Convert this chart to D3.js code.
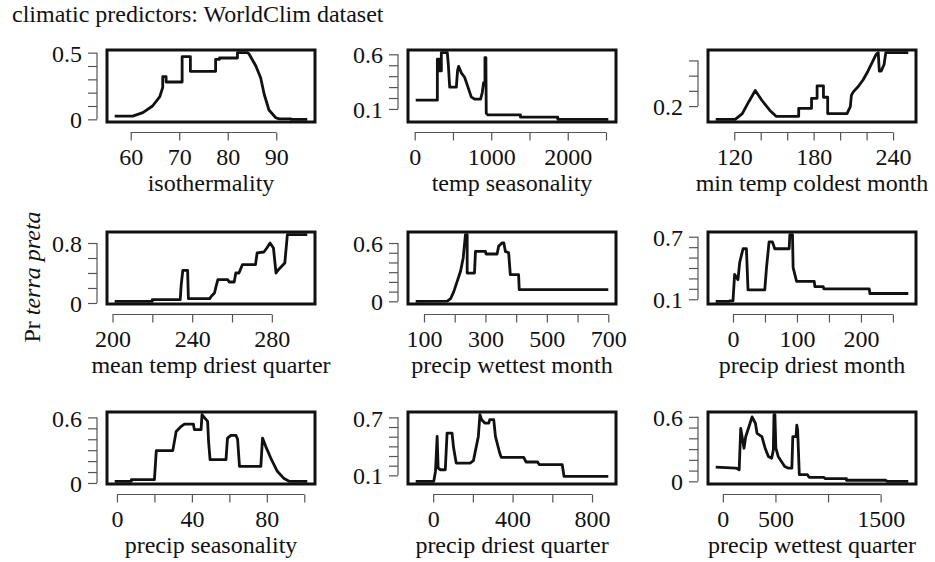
<!DOCTYPE html>
<html>
<head>
<meta charset="utf-8">
<script src="https://cdn.jsdelivr.net/npm/d3@7"></script>
<style>
body { margin: 0; background: #fff; }
text { font-family: "Liberation Serif", "Times New Roman", serif; fill: #111; }
</style>
</head>
<body>
<script>
// response curves, [x, Pr]
const isothermality = [[56.7,0.024],[60.4,0.024],[62.5,0.05],[64.5,0.1],[66,0.17],[66.6,0.24],[66.6,0.32],[67.3,0.32],[67.3,0.28],[70.6,0.28],[70.6,0.47],[72.3,0.47],[72.3,0.36],[77.5,0.36],[77.5,0.45],[78.3,0.45],[78.3,0.46],[82,0.46],[82,0.5],[84.1,0.5],[84.4,0.49],[85.8,0.4],[86.8,0.31],[87.5,0.19],[88.5,0.07],[89.9,0.012],[90.6,0.003],[93,0.003],[93,0],[96.4,0]];
const tempSeasonality = [[13,0.18],[296,0.18],[296,0.555],[322,0.555],[322,0.448],[348,0.448],[348,0.615],[426,0.615],[440,0.5],[457,0.3],[544,0.3],[560,0.45],[574,0.49],[609,0.43],[652,0.39],[696,0.3],[739,0.21],[783,0.19],[861,0.19],[883,0.25],[900,0.34],[918,0.34],[918,0.57],[930,0.57],[935,0.06],[957,0.045],[1382,0.045],[1382,0.025],[1870,0.025],[1870,0.005],[2530,0.005]];
const minTempColdest = [[106,0.113],[120.7,0.113],[126.1,0.151],[131,0.229],[135.9,0.302],[140.7,0.24],[146.8,0.173],[151.6,0.133],[168.7,0.133],[168.7,0.185],[178.4,0.185],[178.4,0.251],[182.6,0.251],[182.6,0.333],[187.4,0.333],[187.4,0.258],[190.6,0.258],[190.6,0.151],[205.2,0.151],[207.7,0.196],[208.5,0.27],[210.1,0.295],[213.7,0.329],[217.4,0.373],[221,0.429],[224.7,0.495],[227.2,0.54],[228.8,0.551],[229.6,0.43],[231,0.43],[233.2,0.473],[234.5,0.551],[251.5,0.551]];
const meanTempDriest = [[201.1,0.022],[220,0.022],[220,0.045],[234,0.045],[234.5,0.245],[235.3,0.436],[237.7,0.436],[238.1,0.058],[248.8,0.058],[249.6,0.089],[251.2,0.133],[252,0.222],[252.9,0.311],[257.8,0.311],[258.6,0.28],[261.1,0.28],[261.9,0.4],[263.5,0.4],[265.2,0.511],[271.8,0.511],[272.6,0.667],[276,0.68],[277.5,0.733],[279.1,0.8],[280.8,0.733],[282.1,0.4],[283.3,0.444],[286.5,0.533],[287.8,0.911],[297.8,0.911]];
const precipWettestMonth = [[73,0],[176,0.003],[186.5,0.027],[197,0.1],[208,0.206],[219,0.31],[227.6,0.446],[235,0.686],[240.6,0.686],[240.6,0.291],[264.4,0.291],[267.6,0.514],[300,0.514],[302,0.487],[338,0.487],[343,0.566],[354,0.6],[360,0.6],[365,0.514],[375.6,0.5],[381,0.274],[408,0.274],[410,0.12],[700,0.12]];
const precipDriestMonth = [[-27,0.08],[-5,0.08],[-5,0.085],[0,0.085],[2.6,0.338],[7.8,0.288],[10.5,0.453],[15.7,0.585],[21,0.585],[23.5,0.19],[49.7,0.19],[52.4,0.403],[56.4,0.65],[61.7,0.65],[65.3,0.585],[87.8,0.585],[88.9,0.72],[93,0.72],[94,0.403],[99.4,0.271],[127,0.271],[128,0.222],[141,0.222],[142,0.199],[213,0.199],[214,0.155],[274,0.155]];
const precipSeasonality = [[-1.2,0.015],[7.7,0.015],[7.7,0.03],[20,0.03],[21,0.296],[29.8,0.296],[31.6,0.472],[34.3,0.518],[36,0.539],[40.8,0.539],[41.3,0.488],[44.9,0.488],[45.4,0.625],[46.6,0.6],[48.4,0.564],[48.9,0.381],[49.7,0.214],[58.2,0.214],[59,0.411],[60.8,0.436],[63.5,0.436],[64.4,0.4],[65.4,0.152],[76.8,0.152],[77.7,0.411],[79.4,0.335],[82.1,0.228],[85.6,0.107],[89.2,0.04],[91.9,0.015],[101.6,0.015]];
const precipDriestQuarter = [[-88,0.038],[3,0.038],[11.6,0.141],[20,0.503],[25,0.175],[36.5,0.158],[61,0.158],[70,0.537],[95,0.537],[103,0.382],[116,0.227],[186,0.227],[202.6,0.252],[214,0.366],[227.5,0.503],[235.5,0.728],[244,0.676],[260,0.641],[280,0.641],[285,0.676],[305,0.676],[313.6,0.503],[335,0.331],[343,0.286],[456,0.286],[468,0.238],[526,0.238],[534,0.211],[650,0.211],[659,0.09],[882,0.09]];
const precipWettestQuarter = [[-68,0.132],[124,0.123],[155,0.108],[170,0.492],[201,0.308],[217,0.415],[248,0.508],[278,0.6],[310,0.538],[325,0.446],[371,0.415],[402,0.308],[433,0.231],[464,0.215],[480,0.292],[486,0.62],[495,0.62],[504,0.308],[526,0.231],[557,0.185],[588,0.138],[619,0.123],[656,0.123],[665,0.415],[696,0.415],[703,0.523],[711,0.477],[727,0.062],[804,0.062],[820,0.037],[959,0.037],[974,0.025],[1175,0.025],[1175,0.01],[1546,0.01],[1562,0],[1763,0]];

// axis titles, row by row
const xTitles = ["isothermality", "temp seasonality", "min temp coldest month",
                 "mean temp driest quarter", "precip wettest month", "precip driest month",
                 "precip seasonality", "precip driest quarter", "precip wettest quarter"];

// tick positions and the ones that get a label
const yTicks = [
    [0, 0.1, 0.2, 0.3, 0.4, 0.5], [0.1, 0.2, 0.3, 0.4, 0.5, 0.6], [0.2, 0.3, 0.4, 0.5],
    [0, 0.2, 0.4, 0.6, 0.8], [0, 0.1, 0.2, 0.3, 0.4, 0.5, 0.6], [0.1, 0.2, 0.3, 0.4, 0.5, 0.6, 0.7],
    [0, 0.1, 0.2, 0.3, 0.4, 0.5, 0.6], [0.1, 0.2, 0.3, 0.4, 0.5, 0.6, 0.7], [0, 0.1, 0.2, 0.3, 0.4, 0.5, 0.6]
];
const yLabels = [[0, 0.5], [0.1, 0.6], [0.2], [0, 0.8], [0, 0.6], [0.1, 0.7], [0, 0.6], [0.1, 0.7], [0, 0.6]];
const xTicks = [
    [60, 70, 80, 90], [0, 500, 1000, 1500, 2000, 2500], [120, 140, 160, 180, 200, 220, 240],
    [200, 220, 240, 260, 280], [100, 200, 300, 400, 500, 600, 700], [0, 50, 100, 150, 200, 250],
    [0, 20, 40, 60, 80, 100], [0, 200, 400, 600, 800], [0, 500, 1000, 1500]
];
const xLabels = [[60, 70, 80, 90], [0, 1000, 2000], [120, 180, 240], [200, 240, 280],
                 [100, 300, 500, 700], [0, 100, 200], [0, 40, 80], [0, 400, 800], [0, 500, 1500]];

const series = [isothermality, tempSeasonality, minTempColdest, meanTempDriest, precipWettestMonth,
                precipDriestMonth, precipSeasonality, precipDriestQuarter, precipWettestQuarter];

const width = 935, height = 562;
const colLeft = [107, 408, 708], rowTop = [50, 232, 412];
const boxW = 208, boxH = 72;
const fontSize = 24;

const svg = d3.select('body').append('svg')
    .attr('width', width)
    .attr('height', height);

svg.append('rect').attr('width', width).attr('height', height).attr('fill', '#fff');

svg.append('text')
    .attr('x', 12)
    .attr('y', 22)
    .style('font-size', fontSize + 'px')
    .text('climatic predictors: WorldClim dataset');

const ylab = svg.append('text')
    .attr('transform', 'translate(40,277) rotate(-90)')
    .attr('text-anchor', 'middle')
    .style('font-size', fontSize + 'px');
ylab.append('tspan').text('Pr ');
ylab.append('tspan').style('font-style', 'italic').text('terra preta');

// R style: 4% padding on each side of the data range
function padded(vals) {
    const [a, b] = d3.extent(vals);
    const p = (b - a) * 0.04;
    return [a - p, b + p];
}

series.forEach((data, i) => {
    const g = svg.append('g')
        .attr('transform', `translate(${colLeft[i % 3]},${rowTop[Math.floor(i / 3)]})`);

    const x = d3.scaleLinear().domain(padded(data.map(d => d[0]))).range([0, boxW]);
    const y = d3.scaleLinear().domain(padded(data.map(d => d[1]))).range([boxH, 0]);

    g.append('path')
        .datum(data)
        .attr('fill', 'none')
        .attr('stroke', '#111')
        .attr('stroke-width', 2.8)
        .attr('stroke-linejoin', 'round')
        .attr('d', d3.line().x(d => x(d[0])).y(d => y(d[1])));

    g.append('rect')
        .attr('width', boxW)
        .attr('height', boxH)
        .attr('fill', 'none')
        .attr('stroke', '#111')
        .attr('stroke-width', 3);

    // y axis, offset left of the box
    const yt = yTicks[i], yl = yLabels[i];
    const ya = g.append('g')
        .attr('transform', 'translate(-10,0)')
        .call(d3.axisLeft(y).tickValues(yt).tickSize(9).tickSizeOuter(0)
            .tickFormat(d => yl.includes(d) ? String(d) : ''));
    ya.select('.domain').attr('d', `M0,${y(yt[0])}V${y(yt[yt.length - 1])}`);
    ya.selectAll('line, .domain').attr('stroke', '#555').attr('stroke-width', 1.2);
    ya.selectAll('text')
        .attr('x', -15)
        .attr('dy', '0.36em')
        .style('font-size', fontSize + 'px')
        .style('font-family', '"Liberation Serif", serif')
        .attr('fill', '#111');

    // x axis, offset below the box
    const xt = xTicks[i], xl = xLabels[i];
    const xa = g.append('g')
        .attr('transform', `translate(0,${boxH + 10.5})`)
        .call(d3.axisBottom(x).tickValues(xt).tickSize(8).tickSizeOuter(0)
            .tickFormat(d => xl.includes(d) ? String(d) : ''));
    xa.select('.domain').attr('d', `M${x(xt[0])},0H${x(xt[xt.length - 1])}`);
    xa.selectAll('line, .domain').attr('stroke', '#555').attr('stroke-width', 1.2);
    xa.selectAll('text')
        .attr('y', 32)
        .attr('dy', null)
        .style('font-size', fontSize + 'px')
        .style('font-family', '"Liberation Serif", serif')
        .attr('fill', '#111');

    g.append('text')
        .attr('x', boxW / 2)
        .attr('y', boxH + 69)
        .attr('text-anchor', 'middle')
        .style('font-size', fontSize + 'px')
        .text(xTitles[i]);
});
</script>
</body>
</html>
